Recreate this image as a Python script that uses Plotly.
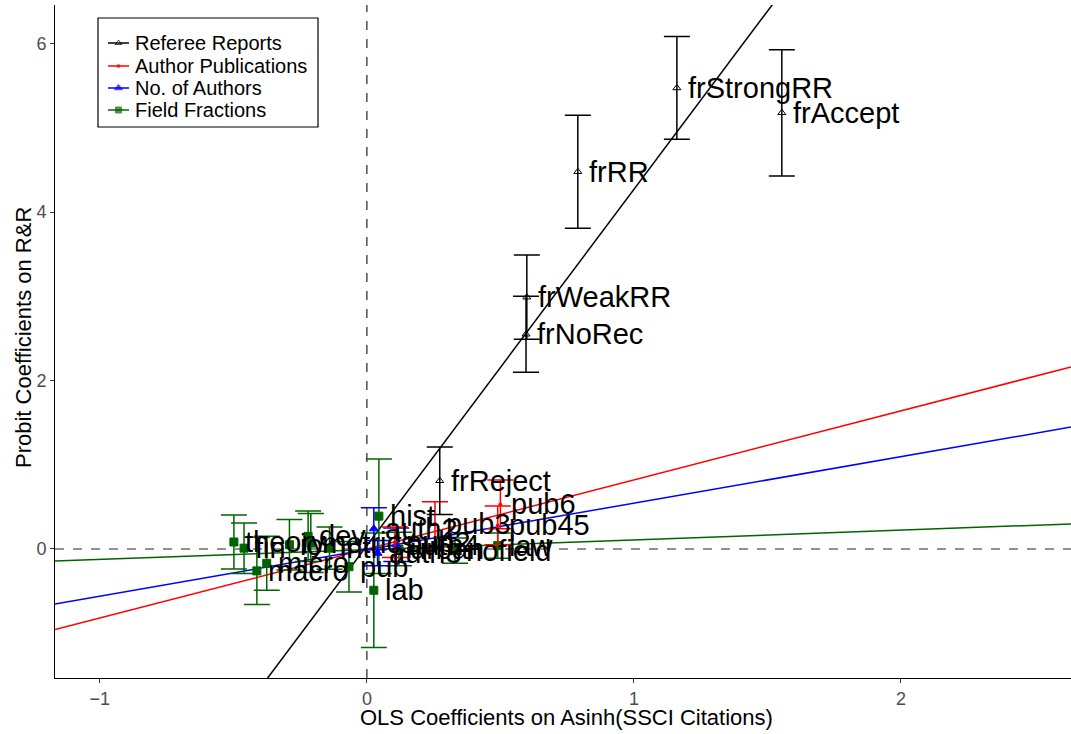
import plotly.graph_objects as go

# ---------------- data ----------------
ref_labels = ["frStrongRR", "frAccept", "frRR", "frWeakRR", "frNoRec", "frReject"]
ref_x = [1.161, 1.554, 0.790, 0.599, 0.596, 0.273]
ref_y = [5.475, 5.180, 4.480, 2.990, 2.550, 0.810]
ref_err = [0.61, 0.75, 0.67, 0.50, 0.45, 0.40]

pub_labels = ["pub2", "pub3", "pub45", "pub6"]
pub_x = [0.105, 0.255, 0.490, 0.500]
pub_y = [0.080, 0.300, 0.280, 0.530]
pub_err = [0.18, 0.26, 0.23, 0.29]

auth_labels = ["auth2", "auth3", "auth4"]
auth_x = [0.026, 0.040, 0.110]
auth_y = [0.240, -0.050, 0.050]
auth_err = [0.25, 0.15, 0.20]

field_labels = ["theory", "fin", "macro", "micro", "io", "dev", "metrics",
                "intl", "pub", "hist", "lab", "urban", "nofield", "law"]
field_x = [-0.498, -0.460, -0.412, -0.375, -0.290, -0.220, -0.210,
           -0.140, -0.067, 0.045, 0.026, 0.120, 0.330, 0.490]
field_y = [0.083, 0.010, -0.260, -0.170, 0.050, 0.150, 0.070,
           0.010, -0.210, 0.390, -0.490, 0.000, -0.020, 0.040]
field_err = [0.32, 0.30, 0.40, 0.32, 0.30, 0.30, 0.35,
             0.25, 0.30, 0.68, 0.68, 0.20, 0.15, 0.15]

# fitted lines (intercept, slope) per group
group_names = ["Referee Reports", "Author Publications", "No. of Authors", "Field Fractions"]
line_intercepts = [0.04, 0.00, -0.008, -0.008]
line_slopes = [4.23, 0.82, 0.552, 0.116]

x_range = [-1.168, 2.637]
y_range = [-1.532, 6.46]

# ---------------- styles ----------------
colors = ["black", "red", "blue", "#006400"]
symbols = ["triangle-up-open", "circle", "triangle-up", "square"]
msizes = [7, 3, 8, 8]
FONT = "Liberation Sans, Arial, sans-serif"

W, H = 1071, 734
ML, MR, MT, MB = 55, 0, 5, 56
PW, PH = W - ML - MR, H - MT - MB


def px(xp):
    return (xp - ML) / PW


def py(yp):
    return 1 - (yp - MT) / PH


fig = go.Figure()

groups = [
    (ref_labels, ref_x, ref_y, ref_err),
    (pub_labels, pub_x, pub_y, pub_err),
    (auth_labels, auth_x, auth_y, auth_err),
    (field_labels, field_x, field_y, field_err),
]

# regression lines
for i, name in enumerate(group_names):
    xs = x_range
    ys = [line_intercepts[i] + line_slopes[i] * v for v in xs]
    fig.add_trace(go.Scatter(x=xs, y=ys, mode="lines",
                             line=dict(color=colors[i], width=1.5),
                             showlegend=False, hoverinfo="skip"))

annotations = []
# points with error bars; labels as annotations
order = [3, 2, 1, 0]
for i in order:
    labels, xs, ys, errs = groups[i]
    fig.add_trace(go.Scatter(
        x=xs, y=ys, mode="markers",
        marker=dict(color=colors[i], symbol=symbols[i], size=msizes[i],
                    line=dict(color=colors[i], width=1)),
        error_y=dict(type="data", array=errs, visible=True,
                     color=colors[i], thickness=1.5, width=13),
        showlegend=False))
    for lab, xv, yv in zip(labels, xs, ys):
        annotations.append(dict(text=lab, x=xv, y=yv, xref="x", yref="y",
                                xanchor="left", yanchor="middle", xshift=9,
                                showarrow=False,
                                font=dict(family=FONT, size=29, color="black")))

# ---------------- manual legend ----------------
leg_rows = [43, 66, 88, 110]
shapes = [
    dict(type="line", xref="x", yref="paper", x0=0, x1=0, y0=0, y1=1,
         line=dict(color="#222222", width=1.2, dash="dash"), layer="below"),
    dict(type="line", xref="paper", yref="y", x0=0, x1=1, y0=0, y1=0,
         line=dict(color="#222222", width=1.2, dash="dash"), layer="below"),
    dict(type="rect", xref="paper", yref="paper", x0=px(98), x1=px(318),
         y0=py(127), y1=py(18), line=dict(color="black", width=1.2),
         fillcolor="white", layer="below"),
]
for i, name in enumerate(group_names):
    yy = leg_rows[i]
    shapes.append(dict(type="line", xref="paper", yref="paper", x0=px(108), x1=px(129),
                       y0=py(yy), y1=py(yy), line=dict(color=colors[i], width=1.5),
                       layer="below"))
    annotations.append(dict(text=name, xref="paper", yref="paper", x=px(133), y=py(yy),
                            xanchor="left", yanchor="middle", showarrow=False,
                            font=dict(size=20, color="black", family=FONT)))

fig.add_trace(go.Scatter(
    x=[118.5] * 4, y=leg_rows, xaxis="x2", yaxis="y2", mode="markers",
    marker=dict(color=colors, symbol=symbols, size=[6, 3, 7, 6],
                line=dict(color=colors, width=1)),
    showlegend=False, hoverinfo="skip", cliponaxis=False))

annotations += [
    dict(text="OLS Coefficients on Asinh(SSCI Citations)", xref="paper", yref="paper",
         x=px(566), y=py(717), xanchor="center", yanchor="middle",
         showarrow=False, font=dict(size=22, color="black", family=FONT)),
    dict(text="Probit Coefficients on R&amp;R", xref="paper", yref="paper",
         x=px(23), y=py(338), xanchor="center", yanchor="middle", textangle=-90,
         showarrow=False, font=dict(size=22, color="black", family=FONT)),
]

fig.update_layout(
    width=W, height=H,
    paper_bgcolor="white", plot_bgcolor="white",
    margin=dict(l=ML, r=MR, t=MT, b=MB, autoexpand=False),
    font=dict(family=FONT, color="black"),
    showlegend=False,
    xaxis=dict(range=x_range, tickvals=[-1, 0, 1, 2], ticktext=["\u22121", "0", "1", "2"],
               showgrid=False, zeroline=False, showline=True, linecolor="black", linewidth=1,
               ticks="outside", ticklen=4, tickcolor="#333333", automargin=False,
               tickfont=dict(size=18, color="#4d4d4d")),
    yaxis=dict(range=y_range, tickvals=[0, 2, 4, 6],
               showgrid=False, zeroline=False, showline=True, linecolor="black", linewidth=1,
               ticks="outside", ticklen=4, tickcolor="#333333", automargin=False,
               tickfont=dict(size=18, color="#4d4d4d")),
    xaxis2=dict(range=[ML, W - MR], overlaying="x", visible=False, fixedrange=True),
    yaxis2=dict(range=[H - MB, MT], overlaying="y", visible=False, fixedrange=True),
    annotations=annotations,
    shapes=shapes,
)

fig.write_html("out.html", config={"displayModeBar": False},
               post_script="document.body.style.margin='0px';")
